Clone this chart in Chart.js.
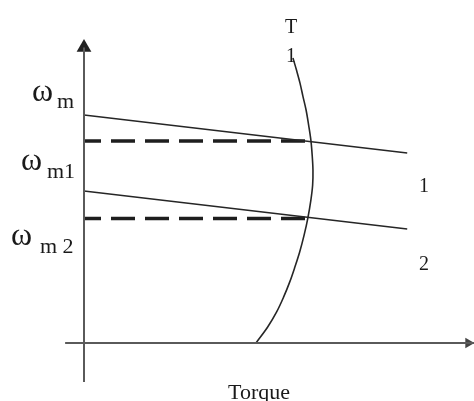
<!DOCTYPE html>
<html><head><meta charset="utf-8">
<script src="https://cdn.jsdelivr.net/npm/chart.js@4.4.0/dist/chart.umd.min.js"></script>
<style>html,body{margin:0;padding:0;background:#fff;overflow:hidden}#wrap{width:474px;height:401px;position:relative}</style>
</head><body><div id="wrap"><canvas id="c"></canvas></div>
<script>
// Motor characteristic 1 and 2 (torque vs speed)
const torque1 = [0, 101];
const speed1 = [100, 83.3];
const torque2 = [0, 101];
const speed2 = [66.7, 50.0];
// Load torque curve T1
const loadTorque = [65.3, 66.4, 67.5, 68.4, 69.4, 70.2, 70.9, 71.3, 71.55, 71.45, 70.9, 69.95, 68.8, 67.4, 65.9, 64.3, 62.4, 60.2, 57.4, 53.75];
const loadSpeed = [125.0, 119.7, 114.0, 108.3, 102.2, 95.6, 89.0, 82.5, 75.9, 69.3, 62.7, 54.8, 47.4, 39.9, 33.3, 26.8, 20.2, 13.6, 7.0, 0];
// Operating points (intersection), shown by dashed lines to speed axis
const opTorque = [71.0, 69.8];
const opSpeed = [88.6, 54.6];
// Axis extents
const axisX = [-5.9, 121.9];
const axisY = [-17.1, 129.6];
const speedLabels = [['ω', 'm'], ['ω', 'm1'], ['ω', 'm 2']];
const curveLabels = ['1', '2'];
const loadLabel = ['T', '1'];
const xTitle = 'Torque';

const pts = (xs, ys) => xs.map((x, i) => ({x, y: ys[i]}));
const ink = '#262626';
const axisColor = '#5a5a5a';

const datasets = [
  {data: pts([0, 0], axisY), borderColor: axisColor, borderWidth: 2, pointRadius: 0},
  {data: pts(axisX, [0, 0]), borderColor: axisColor, borderWidth: 2, pointRadius: 0},
  {data: [{x: 0, y: axisY[1]}], showLine: false, pointStyle: 'triangle', pointRadius: 8.5,
   backgroundColor: '#222', borderColor: '#222', borderWidth: 0},
  {data: [{x: axisX[1] - 1.8, y: 0}], showLine: false, pointStyle: 'triangle', pointRadius: 6, rotation: 90,
   backgroundColor: '#444', borderColor: '#444', borderWidth: 0},
  {data: pts(torque1, speed1), borderColor: ink, borderWidth: 1.6, pointRadius: 0},
  {data: pts(torque2, speed2), borderColor: ink, borderWidth: 1.6, pointRadius: 0},
  {data: pts([0, opTorque[0]], [opSpeed[0], opSpeed[0]]), borderColor: '#1e1e1e', borderWidth: 3.5, borderDash: [24, 10], borderDashOffset: 7, pointRadius: 0},
  {data: pts([0, opTorque[1]], [opSpeed[1], opSpeed[1]]), borderColor: '#1e1e1e', borderWidth: 3.5, borderDash: [24, 10], borderDashOffset: 7, pointRadius: 0},
  {data: pts(loadTorque, loadSpeed), borderColor: ink, borderWidth: 1.6, pointRadius: 0, tension: 0.35},
];
datasets.forEach(d => { d.clip = false; if (d.showLine === undefined) d.showLine = true; });

const serif = '"Liberation Serif","DejaVu Serif",serif';
const textPlugin = {
  id: 'texts',
  afterDatasetsDraw(chart) {
    const ctx = chart.ctx;
    ctx.save();
    ctx.fillStyle = '#1a1a1a';
    ctx.textBaseline = 'alphabetic';
    ctx.textAlign = 'left';
    const pos = [[32, 101, 57, 108], [21, 170, 47, 178], [11, 245, 40, 253]];
    speedLabels.forEach((lab, i) => {
      const [x1, b1, x2, b2] = pos[i];
      ctx.font = '32px ' + serif;
      ctx.fillText(lab[0], x1, b1);
      ctx.font = '22px ' + serif;
      ctx.fillText(lab[1], x2, b2);
    });
    ctx.textAlign = 'center';
    ctx.font = '20px ' + serif;
    ctx.fillText(loadLabel[0], 291, 33);
    ctx.fillText(loadLabel[1], 291, 62);
    ctx.fillText(curveLabels[0], 424, 192);
    ctx.fillText(curveLabels[1], 424, 270);
    ctx.font = '22px ' + serif;
    ctx.fillText(xTitle, 259, 399);
    ctx.restore();
  }
};

new Chart(document.getElementById('c'), {
  type: 'scatter',
  data: {datasets},
  options: {
    responsive: true,
    maintainAspectRatio: false,
    animation: false,
    events: [],
    layout: {padding: 0, autoPadding: false},
    plugins: {legend: {display: false}, tooltip: {enabled: false}},
    scales: {
      x: {type: 'linear', min: -26.25, max: 121.875, display: false},
      y: {type: 'linear', min: -25.4386, max: 150.4386, display: false}
    }
  },
  plugins: [textPlugin, {id: 'bg', beforeDraw(c) { const x = c.ctx; x.save(); x.fillStyle = '#fff'; x.fillRect(0, 0, c.width, c.height); x.restore(); }}]
});
</script></body></html>
